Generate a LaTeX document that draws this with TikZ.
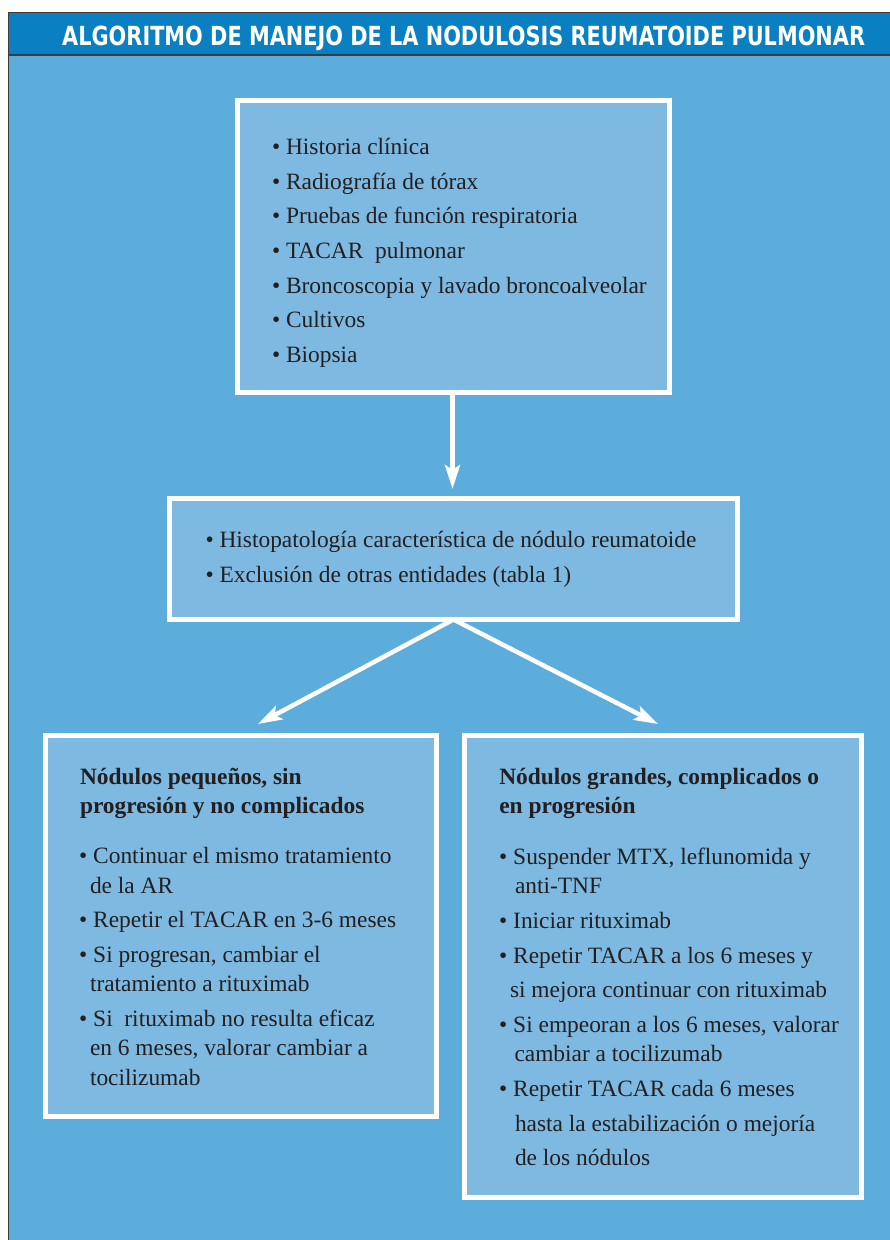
\documentclass[tikz,border=0pt]{standalone}
\usepackage{fontspec}
\setmainfont{Liberation Serif}
\newfontfamily\headfont{DejaVu Sans}
\usetikzlibrary{arrows.meta}
\definecolor{bgblue}{HTML}{5CADDC}
\definecolor{boxblue}{HTML}{7DB9E1}
\definecolor{headblue}{HTML}{0A80C2}
\definecolor{txtcol}{HTML}{231F20}
\definecolor{edgegray}{HTML}{3C3C3C}
\newcommand{\bl}{\textbullet\ }
\tikzset{
  box/.style={draw=white, line width=5pt, fill=boxblue, inner sep=0pt, outer sep=0pt, rectangle},
  txt/.style={anchor=base west, inner sep=0pt, outer sep=0pt, text=txtcol, font=\fontsize{23.4}{28}\selectfont},
  head/.style={txt, font=\fontsize{23.4}{28}\selectfont\bfseries},
  arr/.style={draw=white, line width=4.5pt, -{Stealth[length=24pt,width=15pt,inset=5pt]}}
}
\begin{document}
\begin{tikzpicture}[x=1pt,y=-1pt]
\useasboundingbox (0,0) rectangle (890,1240);
\fill[white] (0,0) rectangle (890,1240);
% body and header band
\fill[bgblue] (8,55) rectangle (890,1240);
\fill[headblue] (8,12) rectangle (890,55);
\draw[edgegray, line width=1.2pt] (890,12.5) -- (8.5,12.5) -- (8.5,1240);
\draw[edgegray, line width=1.2pt] (8.5,55) -- (890,55);
\node[anchor=base west, inner sep=0pt, text=white] (title) at (62,45)
  {\resizebox{803pt}{19.5pt}{\headfont\bfseries ALGORITMO DE MANEJO DE LA NODULOSIS REUMATOIDE PULMONAR}};

% boxes
\node[box, minimum width=431.5pt, minimum height=292.5pt] (b1) at (453.25,246.25) {};
\node[box, minimum width=568pt, minimum height=121.5pt] (b2) at (453.5,558.75) {};
\node[box, minimum width=391.5pt, minimum height=381pt] (b3) at (240.75,926) {};
\node[box, minimum width=397pt, minimum height=462pt] (b4) at (662.5,966.5) {};

% connectors
\coordinate (t1) at (452.5,489);
\coordinate (t2) at (258,724);
\coordinate (t3) at (658,724);
\draw[arr] (b1.south -| t1) -- (t1);
\draw[arr] (b2.south) -- (t2);
\draw[arr] (b2.south) -- (t3);

% box 1 text
\node[txt] (a1) at (272,154.3) {\bl Historia clínica};
\node[txt] (a2) at (272,189) {\bl Radiografía de tórax};
\node[txt] (a3) at (272,223.7) {\bl Pruebas de función respiratoria};
\node[txt] (a4) at (272,258.4) {\bl TACAR\ \ pulmonar};
\node[txt] (a5) at (272,293.1) {\bl Broncoscopia y lavado broncoalveolar};
\node[txt] (a6) at (272,327.8) {\bl Cultivos};
\node[txt] (a7) at (272,362.5) {\bl Biopsia};

% box 2 text
\node[txt] (c1) at (205.5,547.5) {\bl Histopatología característica de nódulo reumatoide};
\node[txt] (c2) at (205.5,582.5) {\bl Exclusión de otras entidades (tabla 1)};

% box 3 text
\node[head] (d0) at (80,784) {Nódulos pequeños, sin};
\node[head] (d00) at (80,813) {progresión y no complicados};
\node[txt] (d1) at (79.2,863.5) {\bl Continuar el mismo tratamiento};
\node[txt] (d2) at (90,893) {de la AR};
\node[txt] (d3) at (79.2,927) {\bl Repetir el TACAR en 3-6 meses};
\node[txt] (d4) at (79.2,962.5) {\bl Si progresan, cambiar el};
\node[txt] (d5) at (90,991.5) {tratamiento a rituximab};
\node[txt] (d6) at (79.2,1026.5) {\bl Si\ \ rituximab no resulta eficaz};
\node[txt] (d7) at (90,1055.5) {en 6 meses, valorar cambiar a};
\node[txt] (d8) at (90,1085) {tocilizumab};

% box 4 text
\node[head] (e0) at (499.3,784) {Nódulos grandes, complicados o};
\node[head] (e00) at (499.3,813) {en progresión};
\node[txt] (e1) at (499.2,864.5) {\bl Suspender MTX, leflunomida y};
\node[txt] (e2) at (515,893.5) {anti-TNF};
\node[txt] (e3) at (499.2,928.5) {\bl Iniciar rituximab};
\node[txt] (e4) at (499.2,963.5) {\bl Repetir TACAR a los 6 meses y};
\node[txt] (e5) at (510,997) {si mejora continuar con rituximab};
\node[txt] (e6) at (499.2,1032.5) {\bl Si empeoran a los 6 meses, valorar};
\node[txt] (e7) at (514.5,1061) {cambiar a tocilizumab};
\node[txt] (e8) at (499.2,1096.5) {\bl Repetir TACAR cada 6 meses};
\node[txt] (e9) at (515,1131) {hasta la estabilización o mejoría};
\node[txt] (e10) at (515,1165) {de los nódulos};
\end{tikzpicture}
\end{document}
